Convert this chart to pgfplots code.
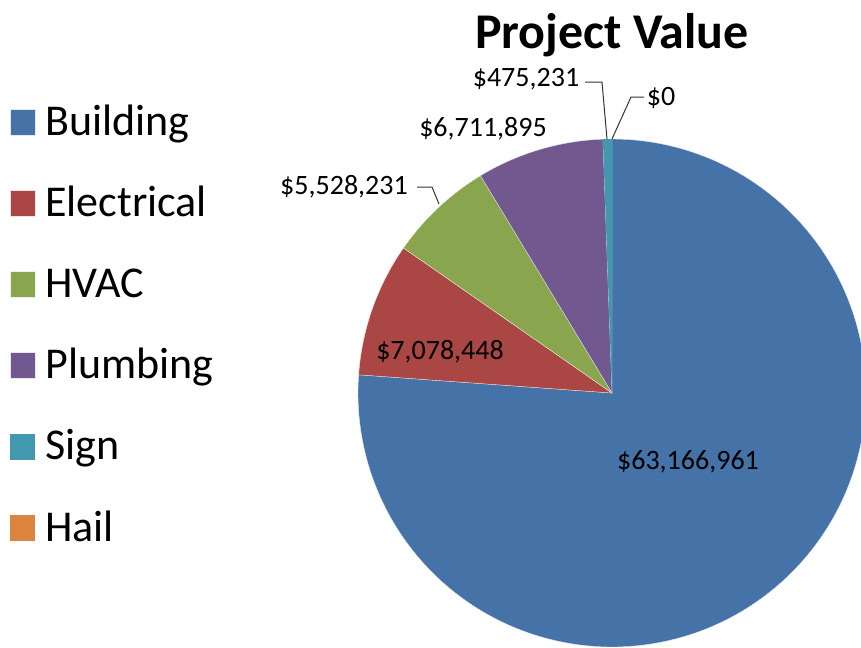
\documentclass[border=0pt]{standalone}
\usepackage{fontspec}
\setmainfont{Carlito}
\usepackage{pgfplots}
\pgfplotsset{compat=1.18}
\definecolor{cBuilding}{HTML}{4572A7}
\definecolor{cElectrical}{HTML}{AA4643}
\definecolor{cHVAC}{HTML}{89A54E}
\definecolor{cPlumbing}{HTML}{71588F}
\definecolor{cSign}{HTML}{4198AF}
\definecolor{cHail}{HTML}{DB843D}
% project values in millions of dollars
\def\vBuilding{63.166961}
\def\vElectrical{7.078448}
\def\vHVAC{5.528231}
\def\vPlumbing{6.711895}
\def\vSign{0.475231}
\def\vHail{0}
\pgfmathsetmacro\vTotal{\vBuilding+\vElectrical+\vHVAC+\vPlumbing+\vSign+\vHail}
\pgfmathsetmacro\aA{90}
\pgfmathsetmacro\aB{\aA-360*(\vBuilding/\vTotal)}
\pgfmathsetmacro\aC{\aB-360*(\vElectrical/\vTotal)}
\pgfmathsetmacro\aD{\aC-360*(\vHVAC/\vTotal)}
\pgfmathsetmacro\aE{\aD-360*(\vPlumbing/\vTotal)}
\pgfmathsetmacro\aF{\aE-360*(\vSign/\vTotal)}
\def\cx{612}
\def\cy{393}
\def\rr{254}
\begin{document}
\begin{tikzpicture}
\begin{axis}[
  scale only axis, width=645.75pt, height=485.25pt,
  xmin=0, xmax=861, ymin=0, ymax=647, y dir=reverse,
  hide axis,
  legend image code/.code={\fill[#1] (0pt,0pt) rectangle (18.75pt,19.5pt);},
  legend cell align=left,
  legend style={at={(axis cs:10,103)}, anchor=north west, draw=none, fill=none,
    inner sep=0pt, outer sep=0pt, row sep=28.9pt, column sep=7.5pt,
    font=\fontsize{33}{39}\selectfont,
    nodes={inner sep=0pt, outer sep=0pt, anchor=base west, text height=24pt, text depth=8pt}},
]
\addplot[fill=cBuilding, draw=white!85!cBuilding, line width=0.25pt, domain=\aB:\aA, samples=150, variable=\t]
  ({\cx+\rr*cos(\t)},{\cy-\rr*sin(\t)}) -- (axis cs:\cx,\cy) -- cycle;
\addlegendentry{Building}
\addplot[fill=cElectrical, draw=white!85!cElectrical, line width=0.25pt, domain=\aC:\aB, samples=30, variable=\t]
  ({\cx+\rr*cos(\t)},{\cy-\rr*sin(\t)}) -- (axis cs:\cx,\cy) -- cycle;
\addlegendentry{Electrical}
\addplot[fill=cHVAC, draw=white!85!cHVAC, line width=0.25pt, domain=\aD:\aC, samples=30, variable=\t]
  ({\cx+\rr*cos(\t)},{\cy-\rr*sin(\t)}) -- (axis cs:\cx,\cy) -- cycle;
\addlegendentry{HVAC}
\addplot[fill=cPlumbing, draw=white!85!cPlumbing, line width=0.25pt, domain=\aE:\aD, samples=30, variable=\t]
  ({\cx+\rr*cos(\t)},{\cy-\rr*sin(\t)}) -- (axis cs:\cx,\cy) -- cycle;
\addlegendentry{Plumbing}
\addplot[fill=cSign, draw=none, domain=\aF:\aE, samples=5, variable=\t]
  ({\cx+\rr*cos(\t)},{\cy-\rr*sin(\t)}) -- (axis cs:\cx,\cy) -- cycle;
\addlegendentry{Sign}
\addlegendimage{fill=cHail, draw=none}
\addlegendentry{Hail}
% title
\node[font=\bfseries\fontsize{37.5}{44}\selectfont, inner sep=0pt] at (axis cs:612,35) {Project Value};
% data labels
\begin{scope}[every node/.style={font=\fontsize{21}{25}\selectfont, inner sep=0pt}]
\node at (axis cs:688,462) {\$63,166,961};
\node at (axis cs:440,352) {\$7,078,448};
\node at (axis cs:344,187) {\$5,528,231};
\node at (axis cs:483,129) {\$6,711,895};
\node at (axis cs:526,79) {\$475,231};
\node at (axis cs:661,98) {\$0};
\end{scope}
% leader lines
\draw[black!80, line width=0.75pt] (axis cs:417,187) -- (axis cs:432,187) -- (axis cs:439,204);
\draw[black!80, line width=0.75pt] (axis cs:585,82) -- (axis cs:602,82) -- (axis cs:607,139);
\draw[black!80, line width=0.75pt] (axis cs:644,97) -- (axis cs:631,97) -- (axis cs:612,139);
\end{axis}
\pgfresetboundingbox
\useasboundingbox (current axis.south west) rectangle (current axis.north east);
\end{tikzpicture}
\end{document}
